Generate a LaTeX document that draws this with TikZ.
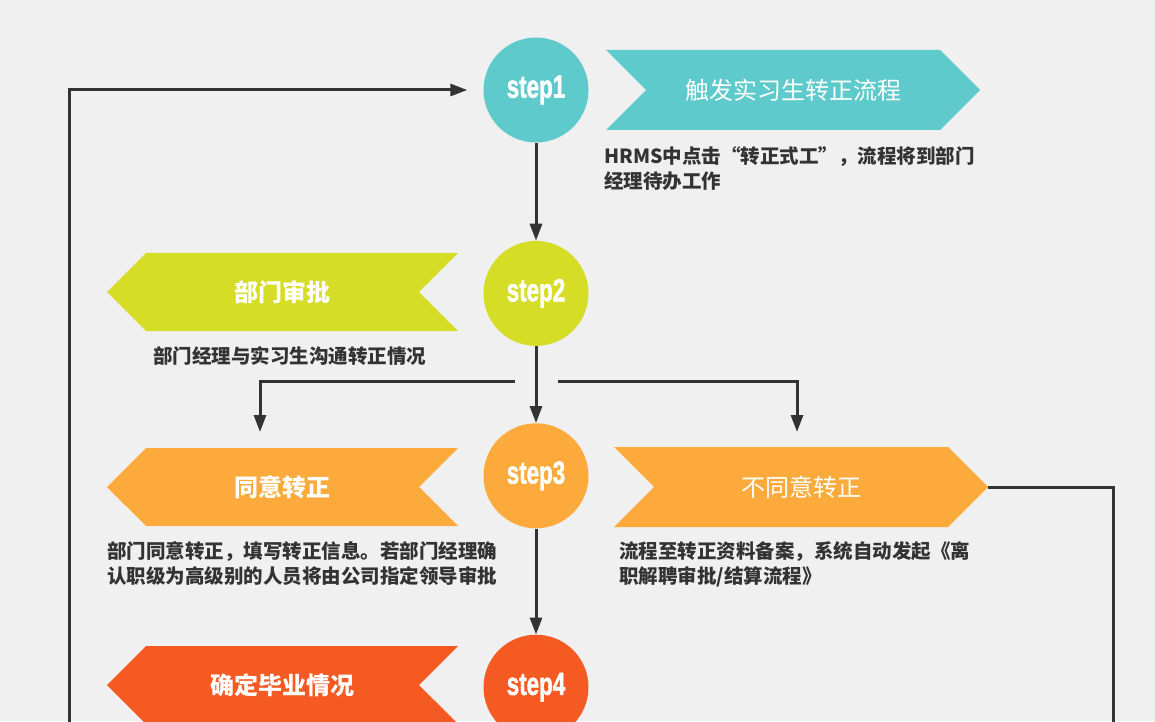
\documentclass[tikz,border=0pt]{standalone}
\usepackage{fontspec}
\usepackage{graphicx}
\setmainfont{Noto Sans CJK SC}
\newfontfamily\stepfont[BoldFeatures={FakeBold=1.6}]{Liberation Sans}
\usepackage{tikz}
\usetikzlibrary{arrows.meta,positioning,shapes.symbols}
\definecolor{bgpaper}{RGB}{240,240,240}
\definecolor{tealstep}{RGB}{95,202,203}
\definecolor{limestep}{RGB}{213,221,39}
\definecolor{orangestep}{RGB}{251,170,59}
\definecolor{redstep}{RGB}{245,90,34}
\definecolor{inkgray}{RGB}{51,51,51}
\newcommand{\steplabel}[1]{\scalebox{0.70}[1]{\stepfont\bfseries #1}}

\begin{document}
\begin{tikzpicture}[
      x=1pt, y=1pt,
      stepdot/.style={circle, minimum size=105pt, inner sep=0pt, text=white,
                  font=\fontsize{32}{32}\selectfont},
      rbanner/.style={signal, signal to=east, signal from=west, signal pointer angle=90,
                  minimum width=374pt, minimum height=80pt, inner sep=0pt, text=white,
                  font=\fontsize{24}{28}\selectfont},
      lbanner/.style={signal, signal to=west, signal from=east, signal pointer angle=90,
                  minimum width=351pt, minimum height=78pt, inner sep=0pt, text=white,
                  font=\fontsize{24}{28}\selectfont\bfseries},
      note/.style={anchor=north west, align=left, inner sep=0pt, text=inkgray,
                  font=\fontsize{19.5}{25}\selectfont\bfseries},
      flow/.style={-{Triangle[length=17pt,width=12pt]}, line width=3pt, draw=inkgray},
      link/.style={line width=3pt, draw=inkgray}
    ]
      \useasboundingbox (0,0) rectangle (1155,721);
      \fill[bgpaper] (0,0) rectangle (1155,721);

      % --- the four steps down the middle ---
      \node[stepdot, fill=tealstep]                      (step1) at (536,631) {\steplabel{step1}};
      \node[stepdot, fill=limestep, below=98pt of step1]   (step2) {\steplabel{step2}};
      \node[stepdot, fill=orangestep, below=77pt of step2] (step3) {\steplabel{step3}};
      \node[stepdot, fill=redstep, below=106pt of step3]   (step4) {\steplabel{step4}};

      % --- banners ---
      \node[rbanner, fill=tealstep]   (start)   at (793,631)   {触发实习生转正流程};
      \node[lbanner, fill=limestep]   (approve) at (282.5,429) {部门审批};
      \node[lbanner, fill=orangestep] (agree)   at (282.5,234) {同意转正};
      \node[rbanner, fill=orangestep] (reject)  at (801,234)   {不同意转正};
      \node[lbanner, fill=redstep]    (finish)  at (282.5,36)  {确定毕业情况};

      % --- notes under the banners ---
      \node[note] (startnote)   at (604,575) {HRMS中点击“转正式工”，流程将到部门\\经理待办工作};
      \node[note] (approvenote) at (153,375) {部门经理与实习生沟通转正情况};
      \node[note] (agreenote)   at (107,180) {部门同意转正，填写转正信息。若部门经理确\\认职级为高级别的人员将由公司指定领导审批};
      \node[note] (rejectnote)  at (619,180) {流程至转正资料备案，系统自动发起《离\\职解聘审批/结算流程》};

      % --- main line ---
      \draw[flow] (step1) -- (step2);
      \draw[flow] (step2) -- (step3);
      \draw[flow] (step3) -- (step4);

      % --- the fork below step2 ---
      \coordinate (forkL)    at (515,340);
      \coordinate (forkR)    at (558,340);
      \coordinate (agreeIn)  at (260,289);
      \coordinate (rejectIn) at (797,289);
      \draw[flow] (forkL) -| (agreeIn);
      \draw[flow] (forkR) -| (rejectIn);

      % --- outer lines, running off the bottom ---
      \coordinate (rightEnd) at (1113,-10);
      \coordinate (leftEnd)  at (69,-10);
      \draw[link] (reject.east) -| (rightEnd);
      \draw[flow, shorten >=16pt] (leftEnd) |- (step1);
    \end{tikzpicture}
\end{document}
